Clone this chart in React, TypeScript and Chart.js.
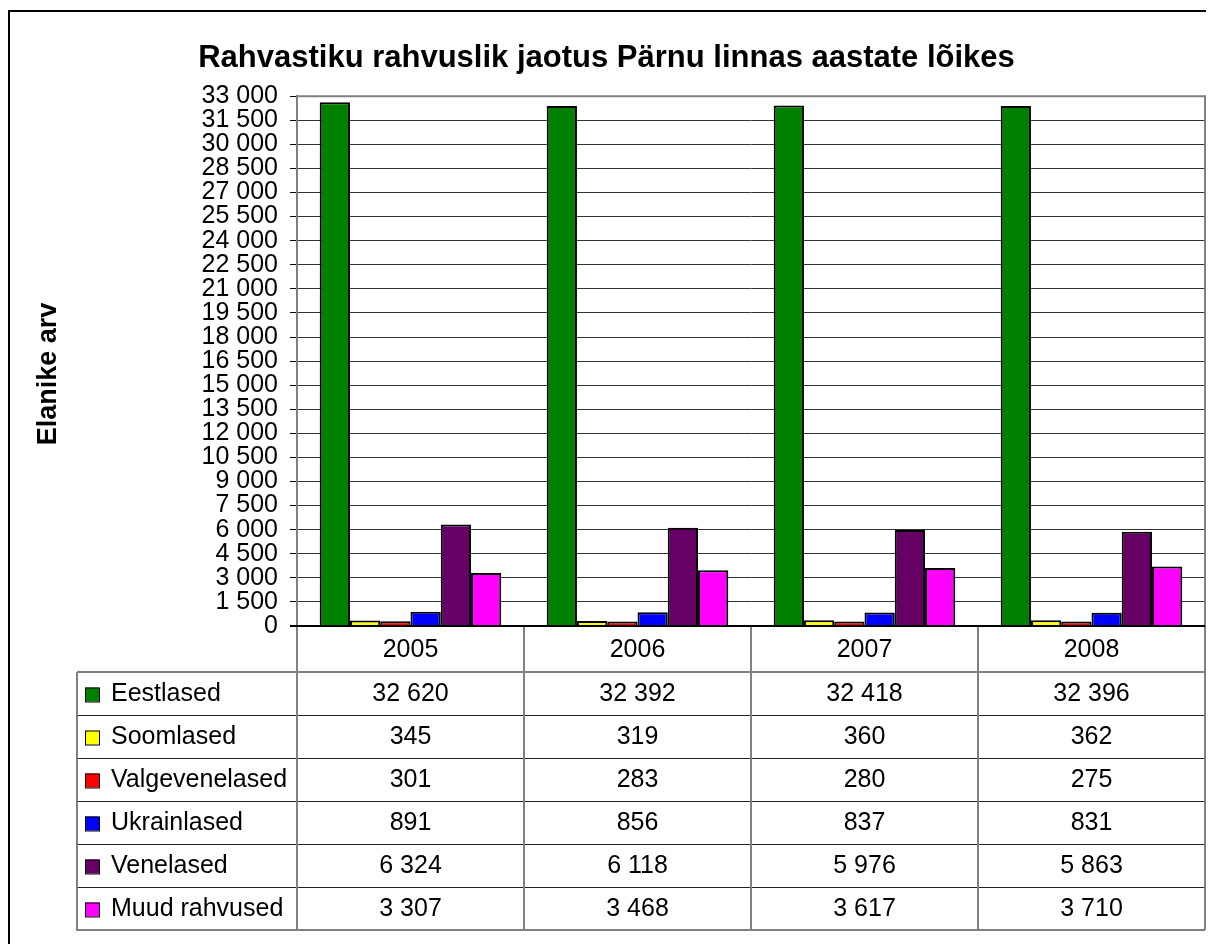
import React, { useEffect, useRef } from "react";
import { Chart, registerables } from "chart.js";

Chart.register(...registerables);

const years = ["2005", "2006", "2007", "2008"];
const seriesNames = ["Eestlased", "Soomlased", "Valgevenelased", "Ukrainlased", "Venelased", "Muud rahvused"];
const eestlased = [32620, 32392, 32418, 32396];
const soomlased = [345, 319, 360, 362];
const valgevenelased = [301, 283, 280, 275];
const ukrainlased = [891, 856, 837, 831];
const venelased = [6324, 6118, 5976, 5863];
const muudRahvused = [3307, 3468, 3617, 3710];
const seriesColors = ["#008000", "#FFFF00", "#FF0000", "#0000FF", "#660066", "#FF00FF"];
const yMax = 33000;
const yStep = 1500;

const FONT = "'Liberation Sans', Arial, sans-serif";

const fmt = (v: number) => String(v).replace(/\B(?=(\d{3})+(?!\d))/g, " ");

const tablePlugin = {
  id: "excelTable",
  afterDraw(chart: any) {
    const ctx = chart.ctx as CanvasRenderingContext2D;
    const { left, right, top, bottom } = chart.chartArea;
    const xs = chart.scales.x;
    const n = years.length;
    const bounds: number[] = [left];
    for (let i = 1; i < n; i++) {
      bounds.push((xs.getPixelForValue(i - 1) + xs.getPixelForValue(i)) / 2);
    }
    bounds.push(right);

    const yearRowH = 46;
    const rowH = 43;
    const tableLeft = 69;
    const tableTop = bottom + yearRowH;
    const tableBottom = tableTop + rowH * seriesNames.length;

    ctx.save();
    // outer chart border
    ctx.strokeStyle = "#000";
    ctx.lineWidth = 2;
    ctx.beginPath();
    ctx.moveTo(1, chart.height);
    ctx.lineTo(1, 3);
    ctx.lineTo(chart.width, 3);
    ctx.stroke();

    // plot area border (top, right)
    ctx.strokeStyle = "#808080";
    ctx.lineWidth = 2;
    ctx.beginPath();
    ctx.moveTo(left, top);
    ctx.lineTo(right, top);
    ctx.lineTo(right, bottom);
    ctx.stroke();

    // horizontal row lines
    ctx.strokeStyle = "#222";
    ctx.lineWidth = 1;
    ctx.beginPath();
    for (let r = 1; r < seriesNames.length; r++) {
      const y = Math.round(tableTop + r * rowH) + 0.5;
      ctx.moveTo(tableLeft, y);
      ctx.lineTo(right, y);
    }
    ctx.stroke();

    // vertical lines & table outline
    ctx.strokeStyle = "#808080";
    ctx.lineWidth = 2;
    ctx.beginPath();
    for (let i = 0; i < bounds.length; i++) {
      ctx.moveTo(bounds[i], bottom);
      ctx.lineTo(bounds[i], tableBottom);
    }
    ctx.moveTo(tableLeft, tableTop);
    ctx.lineTo(right, tableTop);
    ctx.moveTo(tableLeft, tableTop);
    ctx.lineTo(tableLeft, tableBottom);
    ctx.lineTo(right, tableBottom);
    ctx.stroke();

    // zero axis line
    ctx.strokeStyle = "#000";
    ctx.lineWidth = 2;
    ctx.beginPath();
    ctx.moveTo(left - 7, bottom);
    ctx.lineTo(right, bottom);
    ctx.stroke();

    // year labels
    ctx.fillStyle = "#000";
    ctx.font = `25px ${FONT}`;
    ctx.textAlign = "center";
    ctx.textBaseline = "middle";
    for (let i = 0; i < n; i++) {
      ctx.fillText(years[i], (bounds[i] + bounds[i + 1]) / 2, bottom + yearRowH / 2 + 1);
    }

    // rows
    chart.data.datasets.forEach((ds: any, r: number) => {
      const cy = tableTop + r * rowH + rowH / 2 + 1;
      // legend key
      ctx.fillStyle = ds.backgroundColor;
      ctx.fillRect(tableLeft + 8, cy - 7, 14, 14);
      ctx.strokeStyle = "#000";
      ctx.lineWidth = 1;
      ctx.strokeRect(tableLeft + 8.5, cy - 6.5, 14, 14);
      ctx.fillStyle = "#000";
      ctx.textAlign = "left";
      ctx.fillText(ds.label, tableLeft + 34, cy);
      ctx.textAlign = "center";
      for (let i = 0; i < n; i++) {
        ctx.fillText(fmt(ds.data[i]), (bounds[i] + bounds[i + 1]) / 2, cy);
      }
    });

    // y axis title
    ctx.save();
    ctx.translate(41, 366);
    ctx.rotate(-Math.PI / 2);
    ctx.font = `bold 27px ${FONT}`;
    ctx.textAlign = "center";
    ctx.textBaseline = "middle";
    ctx.fillStyle = "#000";
    ctx.fillText("Elanike arv", 0, 0);
    ctx.restore();

    ctx.restore();
  },
};

export default function App() {
  const canvasRef = useRef<HTMLCanvasElement | null>(null);

  useEffect(() => {
    if (!canvasRef.current) return;
    const allSeries = [eestlased, soomlased, valgevenelased, ukrainlased, venelased, muudRahvused];
    const chart = new Chart(canvasRef.current, {
      type: "bar",
      data: {
        labels: years,
        datasets: allSeries.map((d, i) => ({
          label: seriesNames[i],
          data: d,
          backgroundColor: seriesColors[i],
          borderColor: "#000",
          borderWidth: 2,
          borderSkipped: "start",
          barPercentage: 1,
          categoryPercentage: 0.8,
        })),
      },
      options: {
        responsive: false,
        animation: false,
        devicePixelRatio: 1,
        layout: { padding: { left: 0, top: 0, right: 9, bottom: 318 } },
        plugins: {
          legend: { display: false },
          tooltip: { enabled: false },
          title: {
            display: true,
            text: "Rahvastiku rahvuslik jaotus Pärnu linnas aastate lõikes",
            color: "#000",
            font: { family: FONT, size: 31, weight: "bold" },
            padding: { top: 32, bottom: 19 },
          },
        },
        scales: {
          x: {
            display: false,
          },
          y: {
            position: "left",
            min: 0,
            max: yMax,
            afterFit: (scale: any) => {
              scale.width = 289;
            },
            ticks: {
              stepSize: yStep,
              autoSkip: false,
              padding: 12,
              color: "#000",
              font: { family: FONT, size: 25 },
              callback: (v: any) => fmt(Number(v)),
            },
            grid: {
              color: "#333",
              tickColor: "#000",
              tickLength: 7,
              lineWidth: 1,
            },
            border: { display: true, color: "#808080", width: 2 },
          },
        },
      },
      plugins: [tablePlugin],
    });
    return () => chart.destroy();
  }, []);

  return (
    <div style={{ position: "relative", width: 1206, height: 936, overflow: "hidden" }}>
      <canvas ref={canvasRef} width={1206} height={936} style={{ display: "block" }} />
    </div>
  );
}
